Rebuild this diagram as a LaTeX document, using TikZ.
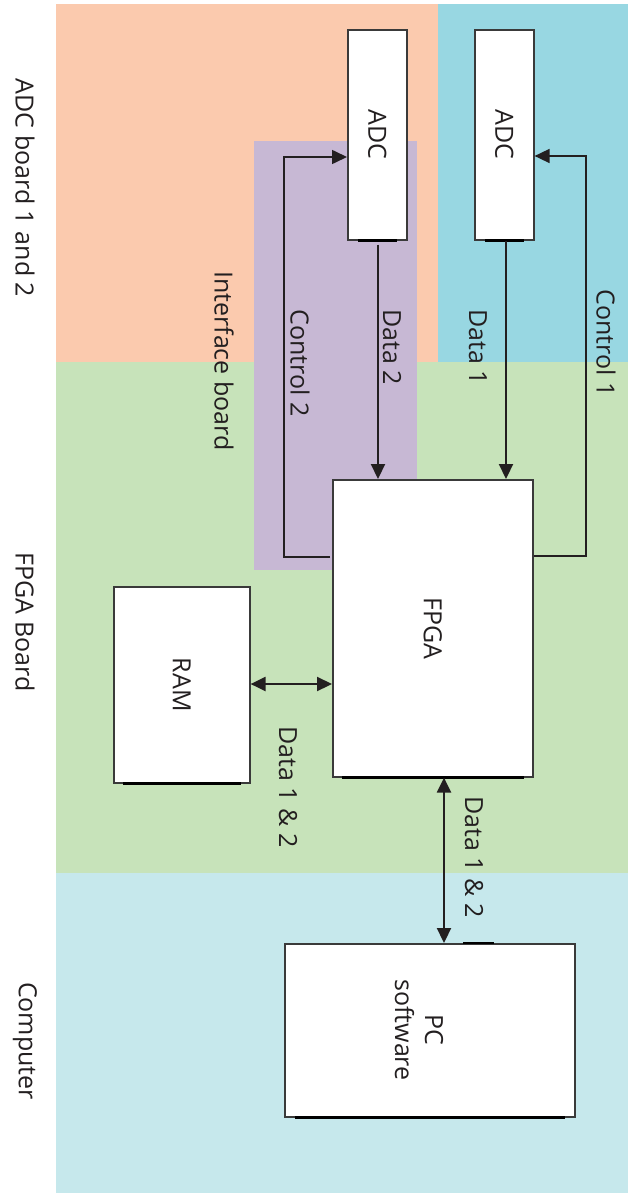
\documentclass[tikz,border=0pt]{standalone}
\usepackage{fontspec}
\setmainfont{Open Sans}
\usetikzlibrary{arrows.meta}
\definecolor{cOrange}{HTML}{FBCAAE}
\definecolor{cCyan}{HTML}{98D7E2}
\definecolor{cGreen}{HTML}{C7E3BA}
\definecolor{cComp}{HTML}{C6E8EC}
\definecolor{cPurple}{HTML}{C7B8D4}
\definecolor{cInk}{HTML}{231F20}
\definecolor{cBorder}{HTML}{3A3A3A}
\begin{document}
\begin{tikzpicture}[x=1pt,y=-1pt,
  font=\fontsize{25}{30}\selectfont,
  box/.style={draw=cBorder, line width=1.6pt, fill=white, inner sep=0pt, anchor=north west, text=cInk},
  baseline/.style={line width=2.8pt, draw=black},
  lbl/.style={rotate=-90, inner sep=0pt, text=cInk},
  conn/.style={draw=cInk, line width=2.2pt},
  thin/.style={draw=cInk, line width=1.6pt},
  tip/.tip={Triangle[length=15pt,width=14pt]}
]
\useasboundingbox (0,0) rectangle (628,1193);
\fill[white] (0,0) rectangle (628,1193);
% regions
\fill[cOrange] (56,4) rectangle (438,362);
\fill[cCyan] (438,4) rectangle (628,362);
\fill[cGreen] (56,362) rectangle (628,873);
\fill[cComp] (56,873) rectangle (628,1193);
\fill[cPurple] (254,141) rectangle (417,570);

% boxes
\node[box, minimum width=59pt, minimum height=210pt] (adc2) at (347,29) {\rotatebox{-90}{ADC}};
\node[box, minimum width=59pt, minimum height=210pt] (adc1) at (474,29) {\rotatebox{-90}{ADC}};
\node[box, minimum width=200pt, minimum height=297pt] (fpga) at (332,479) {\rotatebox{-90}{FPGA}};
\node[box, minimum width=136pt, minimum height=196pt] (ram) at (113,586) {\rotatebox{-90}{RAM}};
\node[box, minimum width=290pt, minimum height=173pt] (pc) at (284,943) {};
\node[lbl, align=center] (pctext) at (419,1030) {PC\\software};

% thick bottom edges
\draw[baseline] ([xshift=11pt]adc2.south west) -- ([xshift=-11pt]adc2.south east);
\draw[baseline] ([xshift=11pt]adc1.south west) -- ([xshift=-11pt]adc1.south east);
\draw[baseline] ([xshift=10pt]fpga.south west) -- ([xshift=-10pt]fpga.south east);
\draw[baseline] ([xshift=10pt]ram.south west) -- ([xshift=-10pt]ram.south east);
\draw[baseline] ([xshift=11pt]pc.south west) -- ([xshift=-11pt]pc.south east);
\draw[baseline] ([xshift=179pt]pc.north west) -- ([xshift=210pt]pc.north west);

% coordinates
\coordinate (c2a) at (284,557);
\coordinate (c2b) at (284,157);
\coordinate (c1a) at (586,556);
\coordinate (c1b) at (586,156);

% connectors
\draw[conn,-tip] ([yshift=-4pt]adc2.south -| 378,0) -- (fpga.north -| 378,0);
\draw[conn,-tip] (adc1.south -| 506,0) -- (fpga.north -| 506,0);
\draw[thin,-tip] ([xshift=-2pt]fpga.west |- c2a) -- (c2a) -- (c2b) -- (adc2.west |- c2b);
\draw[thin,-tip] (fpga.east |- c1a) -- (c1a) -- (c1b) -- (adc1.east |- c1b);
\draw[conn,tip-tip] (ram.east |- 0,684) -- (fpga.west |- 0,684);
\draw[conn,tip-tip] (fpga.south -| 444,0) -- (pc.north -| 444,0);

% labels
\node[lbl] (lboard) at (25,188) {ADC board 1 and 2};
\node[lbl] (lfpgab) at (25,622) {FPGA Board};
\node[lbl] (lcomp) at (25,1041) {Computer};
\node[lbl] (liface) at (224,361) {Interface board};
\node[lbl] (lc2) at (300,363) {Control 2};
\node[lbl] (ld2) at (392,347) {Data 2};
\node[lbl] (ld1) at (478,347) {Data 1};
\node[lbl] (lc1) at (606,343) {Control 1};
\node[lbl] (ldram) at (288,787) {Data 1 \& 2};
\node[lbl] (ldpc) at (474,857) {Data 1 \& 2};
\end{tikzpicture}
\end{document}
